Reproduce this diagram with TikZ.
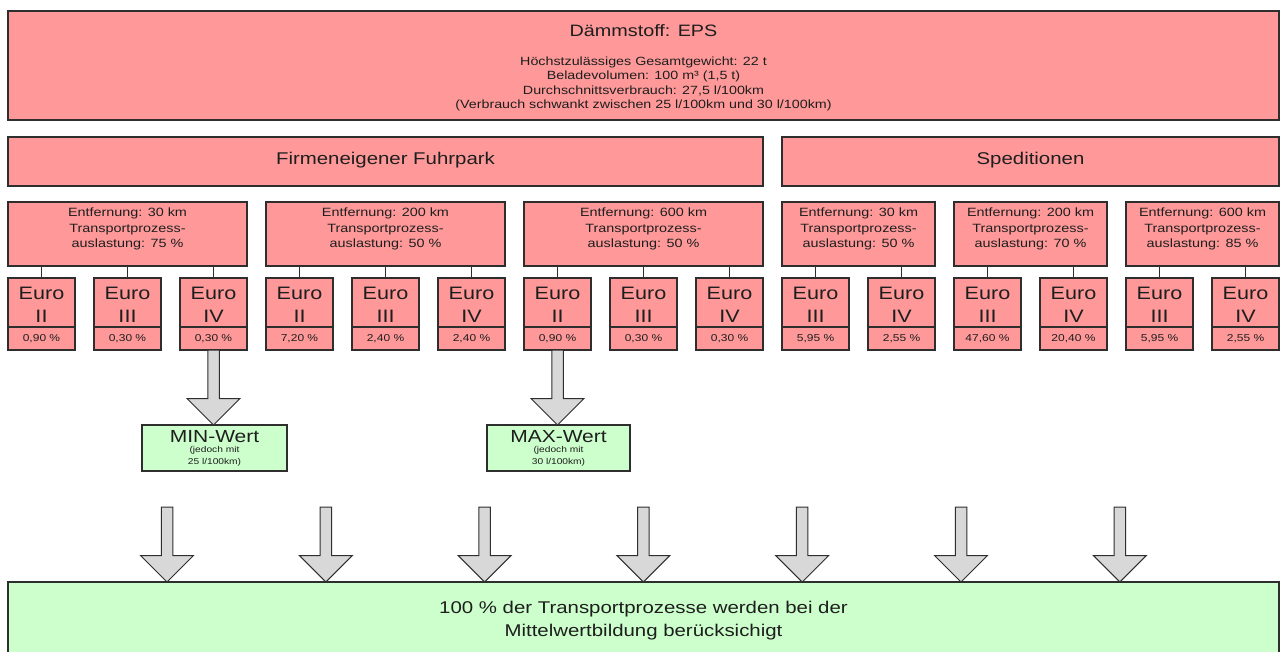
\documentclass[tikz,border=0pt]{standalone}
\usepackage{fontspec}
\setmainfont{Liberation Sans}[FakeStretch=1.2]
\usetikzlibrary{calc}

\definecolor{boxred}{HTML}{FF9999}
\definecolor{boxgreen}{HTML}{CCFFCC}
\definecolor{arrowgray}{HTML}{D8D8D8}
\definecolor{edge}{HTML}{2E2E2E}
\definecolor{ink}{HTML}{1E1E1E}

\newcommand\fsz[2]{\fontsize{#1}{#2}\selectfont}

% rectangle node given by its corners: style, name, x1, y1, x2, y2
\newcommand\cornerbox[6]{%
  \node[#1, minimum width={(#5)-(#3)}, minimum height={(#6)-(#4)}] (#2)
    at ({((#3)+(#5))/2},{((#4)+(#6))/2}) {};}

% one emission class: index, class, share
\newcommand\eurobox[3]{%
  \cornerbox{redbox}{e#1}{8+86*#1}{278}{75+86*#1}{327}
  \node[align=center, font={\fsz{18}{23}}] (e#1txt)
    at ({41.5+86*#1},304.5) {Euro\\#2};
  \node[redbox, minimum width=67, minimum height=23,
        font={\fsz{10}{12}}] (p#1) at ({41.5+86*#1},338.5) {#3 \%};}

% distance box: name, x1, x2, distance, load
\newcommand\distbox[5]{%
  \cornerbox{redbox}{#1}{#2}{202}{#3}{266}
  \node[align=center, font={\fsz{12}{15.5}}] (#1txt) at ({(#2+#3)/2},229)
    {Entfernung: #4 km\\Transportprozess-\\auslastung: #5 \%};}

% broad downward arrow from coordinate #1 to tip #2
\newcommand\blockdown[2]{%
  \draw[blockarrow] ($(#1)+(-5.75,0)$) -- ($(#2)+(-5.75,-26.5)$)
    -- ($(#2)+(-26.5,-26.5)$) -- (#2) -- ($(#2)+(26.5,-26.5)$)
    -- ($(#2)+(5.75,-26.5)$) -- ($(#1)+(5.75,0)$) -- cycle;}

\begin{document}
\begin{tikzpicture}[x=1pt,y=-1pt,
  every node/.style={inner sep=0pt, outer sep=0pt, text=ink},
  redbox/.style={draw=edge, line width=1.1pt, fill=boxred},
  greenbox/.style={draw=edge, line width=1.1pt, fill=boxgreen},
  link/.style={draw=edge, line width=1.1pt},
  blockarrow/.style={draw=edge, line width=1pt, fill=arrowgray, line join=miter},
]
\path[use as bounding box, clip] (0,0) rectangle (1285,651);
\fill[white] (0,0) rectangle (1285,651);

% material header
\cornerbox{redbox}{top}{8}{11}{1279}{120}
\node[font={\fsz{16.5}{20}}] (title) at (643.5,31) {Dämmstoff: EPS};
\node[align=center, font={\fsz{11.9}{14.4}}] (specs) at (643.5,84)
  {Höchstzulässiges Gesamtgewicht: 22 t\\
   Beladevolumen: 100 m³ (1,5 t)\\
   Durchschnittsverbrauch: 27,5 l/100km\\
   (Verbrauch schwankt zwischen 25 l/100km und 30 l/100km)};

% fleet groups
\cornerbox{redbox}{fleet}{8}{137}{763}{186}
\node[font={\fsz{17}{20}}] (fleettxt) at (385.5,160.5) {Firmeneigener Fuhrpark};
\cornerbox{redbox}{carrier}{782}{137}{1279}{186}
\node[font={\fsz{17}{20}}] (carriertxt) at (1030.5,160.5) {Speditionen};

% distances
\distbox{d0}{8}{247}{30}{75}
\distbox{d1}{266}{505}{200}{50}
\distbox{d2}{524}{763}{600}{50}
\distbox{d3}{782}{935}{30}{50}
\distbox{d4}{954}{1107}{200}{70}
\distbox{d5}{1126}{1279}{600}{85}

% emission classes with shares
\eurobox{0}{II}{0,90}
\eurobox{1}{III}{0,30}
\eurobox{2}{IV}{0,30}
\eurobox{3}{II}{7,20}
\eurobox{4}{III}{2,40}
\eurobox{5}{IV}{2,40}
\eurobox{6}{II}{0,90}
\eurobox{7}{III}{0,30}
\eurobox{8}{IV}{0,30}
\eurobox{9}{III}{5,95}
\eurobox{10}{IV}{2,55}
\eurobox{11}{III}{47,60}
\eurobox{12}{IV}{20,40}
\eurobox{13}{III}{5,95}
\eurobox{14}{IV}{2,55}

% links from distances to classes
\foreach \e/\d in {0/d0,1/d0,2/d0,3/d1,4/d1,5/d1,6/d2,7/d2,8/d2,
                   9/d3,10/d3,11/d4,12/d4,13/d5,14/d5}
  \draw[link] (e\e.north) -- (e\e.north |- \d.south);

% extreme values
\cornerbox{greenbox}{minbox}{142}{425}{287}{471}
\node[font={\fsz{17.5}{20}}] (mintxt) at (214.5,436.5) {MIN-Wert};
\node[align=center, font={\fsz{8.5}{12}}] (minnote) at (214.5,456.5)
  {(jedoch mit\\25 l/100km)};
\cornerbox{greenbox}{maxbox}{487}{425}{630}{471}
\node[font={\fsz{17.5}{20}}] (maxtxt) at (558.5,436.5) {MAX-Wert};
\node[align=center, font={\fsz{8.5}{12}}] (maxnote) at (558.5,456.5)
  {(jedoch mit\\30 l/100km)};

\coordinate (mintip) at (p2.south |- minbox.north);
\coordinate (maxtip) at (p6.south |- maxbox.north);
\blockdown{p2.south}{mintip}
\blockdown{p6.south}{maxtip}

% averaging
\cornerbox{greenbox}{total}{8}{582}{1279}{660}
\node[align=center, font={\fsz{17}{23}}] (totaltxt) at (643.5,620.5)
  {100 \% der Transportprozesse werden bei der\\Mittelwertbildung berücksichigt};

\foreach \k in {0,...,6} {
  \coordinate (src\k) at ({167+158.8*\k},507);
  \coordinate (dst\k) at (src\k |- total.north);
  \blockdown{src\k}{dst\k}
}
\end{tikzpicture}
\end{document}
